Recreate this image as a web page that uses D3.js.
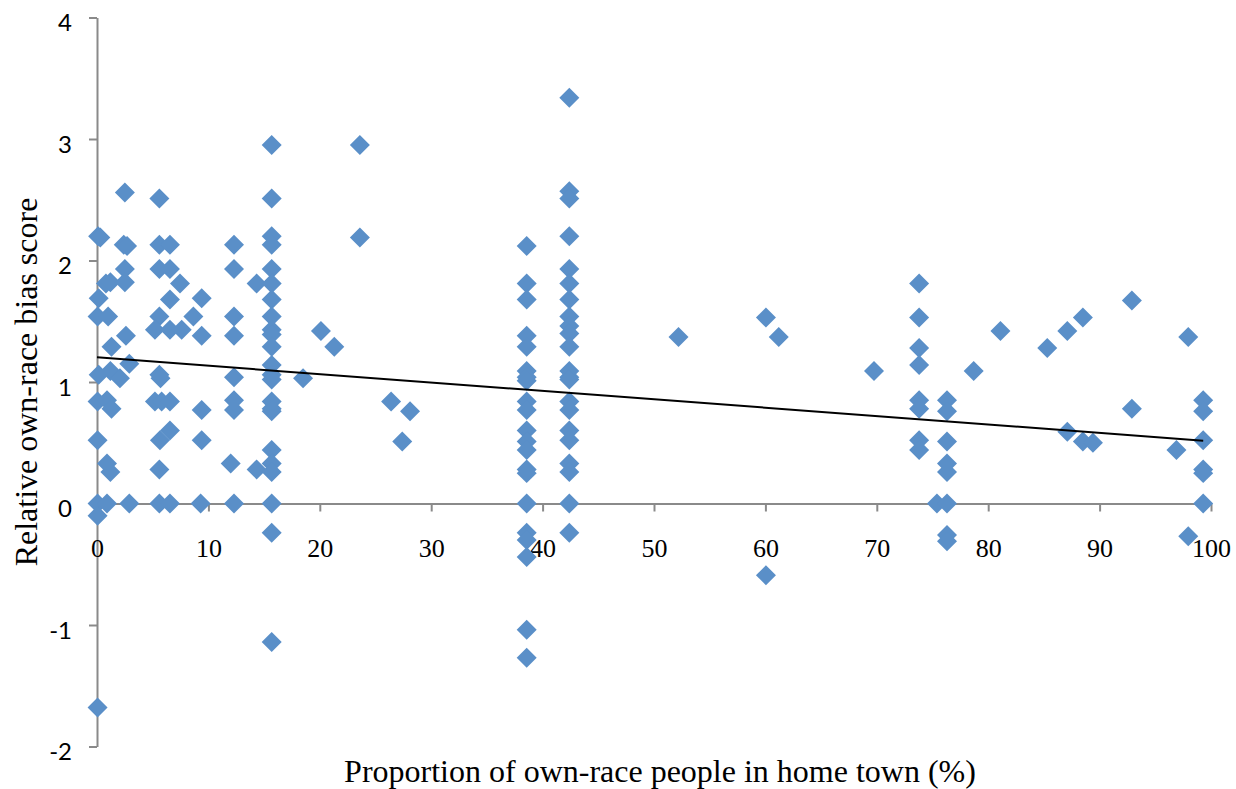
<!DOCTYPE html>
<html>
<head>
<meta charset="utf-8">
<script src="https://cdn.jsdelivr.net/npm/d3@7"></script>
<style>
  body { margin: 0; background: #fff; }
  .y-axis text { font-family: Lato, "Open Sans", sans-serif; font-size: 24px; fill: #000; }
  .x-axis text { font-family: "Liberation Serif", "Times New Roman", serif; font-size: 26px; fill: #000; }
  .axis-title { font-family: "Liberation Serif", "Times New Roman", serif; font-size: 32px; fill: #000; }
</style>
</head>
<body>
<div id="chart"></div>
<script>
// proportion of own-race people in home town (%) for each participant
const hometownPct = [
    0.1, 0.3, 0.15, 0.05, 0.15, 0.05, 0.05, 0.05, 0.05, 0.05,
    0.8, 1.2, 1.0, 1.3, 1.2, 0.9, 1.3, 0.9, 1.2, 0.9,
    2.06,
    2.5, 2.4, 2.7, 2.5, 2.5, 2.6,
    2.9, 2.9,
    5.6, 5.6, 5.6, 5.6, 5.2, 5.6, 5.7, 5.2, 5.8, 5.65, 5.6, 5.6,
    6.55, 6.55, 6.55, 6.55, 6.55, 6.55, 6.55,
    7.45, 7.6,
    8.65,
    9.4, 9.4, 9.4, 9.4, 9.3,
    12.3, 12.3, 12.3, 12.3, 12.3, 12.3, 12.3, 12.0, 12.3,
    14.33, 14.33,
    15.68, 15.68, 15.68, 15.68, 15.68, 15.68, 15.68, 15.68, 15.68, 15.68, 15.68, 15.68,
    15.68, 15.68, 15.68, 15.68, 15.68, 15.68, 15.68, 15.68, 15.68, 15.68, 15.68,
    18.5, 20.1, 21.3, 23.6, 23.6, 26.4, 27.4, 28.1,
    38.57, 38.57, 38.57, 38.57, 38.57, 38.57, 38.57, 38.57, 38.57, 38.57, 38.57,
    38.57, 38.57, 38.57, 38.57, 38.57, 38.57, 38.57, 38.57, 38.57, 38.57,
    42.4, 42.4, 42.4, 42.4, 42.4, 42.4, 42.4, 42.4, 42.4, 42.4, 42.4,
    42.4, 42.4, 42.4, 42.4, 42.4, 42.4, 42.4, 42.4, 42.4, 42.4, 42.4,
    52.2, 60.05, 60.05, 61.2, 69.75,
    73.8, 73.8, 73.8, 73.8, 73.8, 73.8, 73.8, 73.8,
    75.4,
    76.3, 76.3, 76.3, 76.3, 76.3, 76.3, 76.3, 76.3,
    78.7, 81.1, 85.3, 87.1, 87.1, 88.5, 88.5, 89.4, 92.9, 92.9, 96.9, 97.96, 97.96,
    99.3, 99.3, 99.3, 99.3, 99.3, 99.3
];

// relative own-race bias score, same order as above
const biasScore = [
    2.20, 2.19, 1.69, 1.54, 1.06, 0.84, 0.52, 0.00, -0.10, -1.68,
    1.81, 1.82, 1.54, 1.29, 1.09, 0.85, 0.78, 0.33, 0.26, 0.00,
    1.03,
    2.56, 2.13, 2.12, 1.93, 1.82, 1.38,
    1.15, 0.00,
    2.51, 2.13, 1.93, 1.54, 1.43, 1.06, 1.03, 0.84, 0.84, 0.52, 0.28, 0.00,
    2.13, 1.93, 1.68, 1.43, 0.84, 0.60, 0.00,
    1.81, 1.43,
    1.54,
    1.69, 1.38, 0.77, 0.52, 0.00,
    2.13, 1.93, 1.54, 1.38, 1.04, 0.85, 0.77, 0.33, 0.00,
    1.81, 0.28,
    2.95, 2.51, 2.20, 2.13, 1.93, 1.81, 1.68, 1.54, 1.43, 1.39, 1.29, 1.14,
    1.06, 1.02, 0.84, 0.78, 0.76, 0.44, 0.33, 0.26, 0.00, -0.24, -1.14,
    1.03, 1.42, 1.29, 2.95, 2.19, 0.84, 0.51, 0.76,
    2.12, 1.81, 1.68, 1.38, 1.29, 1.09, 1.04, 1.01, 0.84, 0.77, 0.60,
    0.51, 0.44, 0.28, 0.25, 0.00, -0.24, -0.30, -0.44, -1.04, -1.27,
    3.34, 2.57, 2.51, 2.20, 1.93, 1.81, 1.68, 1.54, 1.46, 1.40, 1.29,
    1.09, 1.04, 1.02, 0.84, 0.77, 0.60, 0.52, 0.33, 0.26, 0.00, -0.24,
    1.37, 1.53, -0.59, 1.37, 1.09,
    1.81, 1.53, 1.28, 1.14, 0.85, 0.78, 0.52, 0.44,
    0.00,
    0.85, 0.76, 0.51, 0.33, 0.26, 0.00, -0.26, -0.31,
    1.09, 1.42, 1.28, 1.42, 0.59, 1.53, 0.51, 0.50, 1.67, 0.78, 0.44, 1.37, -0.27,
    0.85, 0.76, 0.52, 0.28, 0.25, 0.00
];

// linear trendline end points
const trendX = [0, 99.3];
const trendY = [1.203, 0.517];

// tick values
const xTicks = [0, 10, 20, 30, 40, 50, 60, 70, 80, 90, 100];
const yTicks = [-2, -1, 0, 1, 2, 3, 4];

// set the svg up
let svgWidth = 1236;
let svgHeight = 789;
let margin = { top: 17.5, bottom: 42.5, left: 97, right: 25 };
let width = svgWidth - margin.left - margin.right;
let height = svgHeight - margin.top - margin.bottom;

let svg = d3.select("#chart")
    .append("svg")
    .attr("width", svgWidth)
    .attr("height", svgHeight);

let chartGroup = svg.append("g")
    .attr("transform", `translate(${margin.left},${margin.top})`);

// scales
let xScale = d3.scaleLinear().domain([0, 100]).range([0, width]);
let yScale = d3.scaleLinear().domain([-2, 4]).range([height, 0]);

const axisColor = "#8a8a8a";

// y axis (plain hyphen for negatives, like the original)
let yAxis = chartGroup.append("g")
    .classed("y-axis", true)
    .call(d3.axisLeft(yScale)
        .tickValues(yTicks)
        .tickFormat(d => String(d))
        .tickSize(8)
        .tickSizeOuter(0)
        .tickPadding(17));
yAxis.selectAll("text").attr("dy", "0.55em");

// x axis, crossing at y = 0
let xAxis = chartGroup.append("g")
    .classed("x-axis", true)
    .attr("transform", `translate(0,${yScale(0)})`)
    .call(d3.axisBottom(xScale).tickValues(xTicks).tickSize(8).tickSizeOuter(0));
xAxis.selectAll("text").attr("y", 53).attr("dy", null);

chartGroup.selectAll(".domain, .tick line")
    .attr("stroke", axisColor)
    .attr("stroke-width", 2);

// points
let points = hometownPct.map((x, i) => ({ x: x, y: biasScore[i] }));
let diamond = d3.symbol().type(d3.symbolSquare).size(200);

chartGroup.append("g")
    .selectAll("path")
    .data(points)
    .enter()
    .append("path")
    .attr("d", diamond)
    .attr("transform", d => `translate(${xScale(d.x)},${yScale(d.y)}) rotate(45)`)
    .attr("fill", "#5a8fc8");

// trendline
chartGroup.append("line")
    .attr("x1", xScale(trendX[0]))
    .attr("y1", yScale(trendY[0]))
    .attr("x2", xScale(trendX[1]))
    .attr("y2", yScale(trendY[1]))
    .attr("stroke", "#000")
    .attr("stroke-width", 2);

// axis titles
svg.append("text")
    .classed("axis-title", true)
    .attr("text-anchor", "middle")
    .attr("x", 660)
    .attr("y", 782)
    .text("Proportion of own-race people in home town (%)");

svg.append("text")
    .classed("axis-title", true)
    .attr("text-anchor", "middle")
    .attr("transform", "translate(37,382) rotate(-90)")
    .text("Relative own-race bias score");
</script>
</body>
</html>
